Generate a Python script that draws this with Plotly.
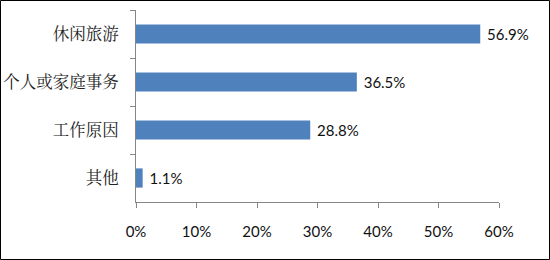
import plotly.graph_objects as go

categories = ["休闲旅游", "个人或家庭事务", "工作原因", "其他"]
values = [56.9, 36.5, 28.8, 1.1]
tick_vals = [0, 10, 20, 30, 40, 50, 60]
tick_text = ["0%", "10%", "20%", "30%", "40%", "50%", "60%"]

L, R, T, B = 136, 51, 10, 58
W, H = 550, 260
pw, ph = W - L - R, H - T - B

fig = go.Figure(go.Bar(
    x=values, y=categories, orientation="h",
    marker=dict(color="#4F81BD", line=dict(width=0)),
    width=0.4,
    texttemplate="\u00a0%{x:.1f}%", textposition="outside", cliponaxis=False,
    textfont=dict(family="Lato, Open Sans, sans-serif", size=15, color="#111"),
))

fig.update_layout(
    width=W, height=H,
    margin=dict(l=L, r=R, t=T, b=B),
    paper_bgcolor="white", plot_bgcolor="white",
    showlegend=False,
    xaxis=dict(range=[0, 60], tickvals=tick_vals, ticktext=tick_text,
               automargin=False,
               showgrid=False, zeroline=False, showline=True,
               linecolor="#868686", linewidth=1,
               ticks="outside", ticklen=5, tickcolor="#868686",
               ticklabelstandoff=11,
               tickfont=dict(family="Lato, Open Sans, sans-serif", size=15, color="#111")),
    yaxis=dict(autorange="reversed", showgrid=False, showline=True,
               automargin=False,
               linecolor="#868686", linewidth=1,
               ticks="outside", ticklen=5, tickcolor="#868686",
               tickson="boundaries", ticklabelstandoff=13,
               tickfont=dict(family="Noto Serif CJK SC, Noto Sans CJK SC", size=16.5, color="#222")),
)

fig.add_shape(type="rect", xref="paper", yref="paper",
              x0=-(L - 0.5) / pw, x1=1 + (R - 0.5) / pw,
              y0=-(B - 0.5) / ph, y1=1 + (T - 0.5) / ph,
              line=dict(color="black", width=1), layer="above")

fig.write_html("out.html")
